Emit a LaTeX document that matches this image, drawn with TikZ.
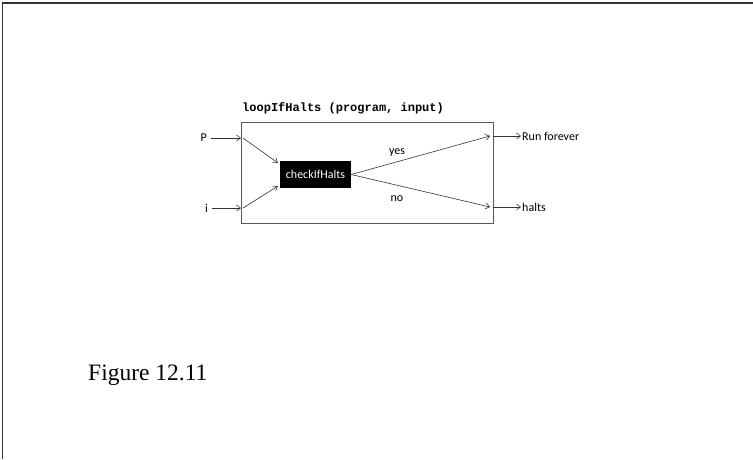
\documentclass[tikz,border=0pt]{standalone}
\usepackage{fontspec}
\setsansfont{Carlito}
\setmonofont{Liberation Mono}
\newfontfamily\figfont{Liberation Serif}
\usetikzlibrary{arrows.meta,positioning}

\begin{document}
\begin{tikzpicture}[x=1pt, y=-1pt,
  lbl/.style={font=\sffamily\fontsize{12}{14}\selectfont, inner sep=1pt},
  arr/.style={-{Straight Barb[length=4pt,width=6pt]}, line width=0.6pt, draw=black!80},
  outer/.style={draw=black!65, line width=0.9pt, minimum width=252pt, minimum height=101pt}
]
  \useasboundingbox (0,0) rectangle (753,459);
  \draw[black!80, line width=1.5pt] (2.5,459) -- (2.5,3) -- (753,3);

  \node[outer] (lbox) at (367,172.5) {};
  \node[anchor=base west, inner sep=0, font=\ttfamily\bfseries\fontsize{12}{14}\selectfont] (title) at (242,111) {loopIfHalts (program, input)};
  \node[fill=black, text=white, font=\sffamily\fontsize{12}{14}\selectfont, minimum width=71pt, minimum height=27pt, inner sep=2pt] (check) at (315.5,174.5) {checkIfHalts};

  \node[lbl, anchor=east] (p) at (208,138) {P};
  \node[lbl, anchor=east] (i) at (209,208) {i};
  \coordinate (pin) at (241,138);
  \coordinate (iin) at (241,208);
  \draw[arr, shorten <=3pt] (p) -- (pin);
  \draw[arr, shorten <=3pt] (i) -- (iin);
  \draw[arr] ([xshift=2pt]pin) -- ([xshift=-2pt,yshift=-2pt]check.north west);
  \draw[arr] ([xshift=2pt]iin) -- ([xshift=-2pt,yshift=2pt]check.south west);

  % outputs
  \coordinate (rout) at (493,136);
  \coordinate (hout) at (493,207);
  \draw[arr] (check.east) -- node[lbl, pos=0.33, above=4pt] (yes) {yes} ([xshift=-3pt]rout);
  \draw[arr] (check.east) -- node[lbl, pos=0.33, below=9pt] (no) {no} ([xshift=-3pt]hout);
  \node[lbl, anchor=west] (run) at (521,136) {Run forever};
  \node[lbl, anchor=west] (halts) at (521,207) {halts};
  \draw[arr] (rout) -- (run);
  \draw[arr] (hout) -- (halts);

  \node[anchor=base west, inner sep=0, font=\figfont\fontsize{23.5}{28}\selectfont] (fig) at (88,380) {Figure 12.11};
\end{tikzpicture}
\end{document}
